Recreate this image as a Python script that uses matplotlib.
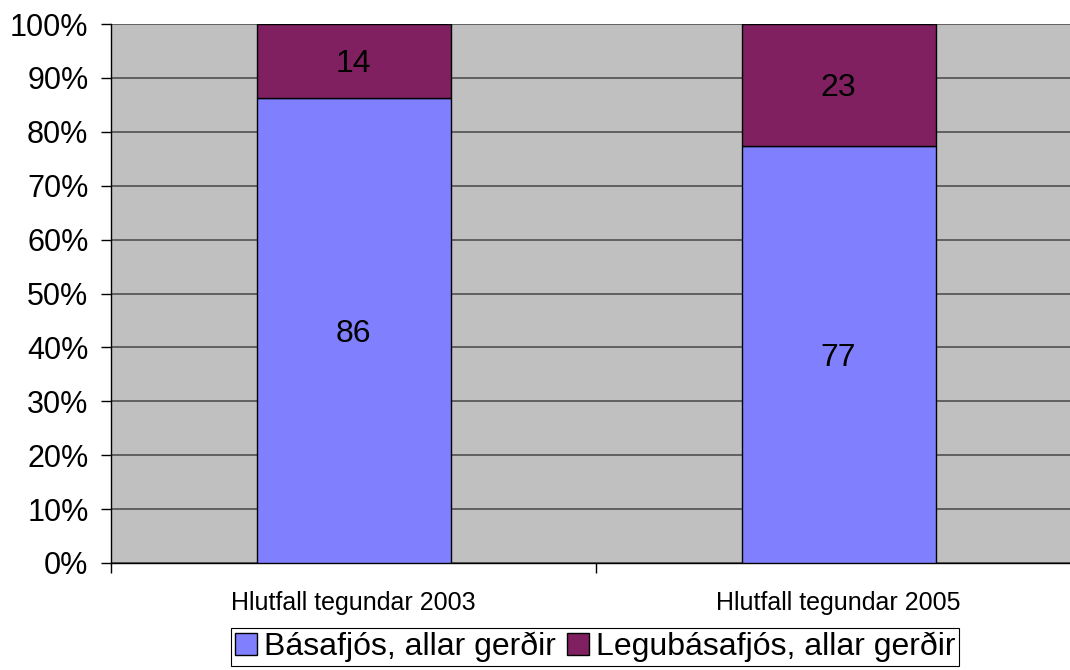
import matplotlib.pyplot as plt
import numpy as np
from matplotlib.ticker import FixedLocator, PercentFormatter

categories = ['Hlutfall tegundar 2003', 'Hlutfall tegundar 2005']
basafjos = [86.3, 77.4]
legubasafjos = [13.7, 22.6]
series_names = ['Básafjós, allar gerðir', 'Legubásafjós, allar gerðir']

plt.rcParams['font.family'] = ['Liberation Sans', 'DejaVu Sans']

fig = plt.figure(figsize=(10.7, 6.7), dpi=100)
ax = fig.add_axes([111 / 1070, 1 - 563 / 670, 970 / 1070, 539 / 670])
ax.set_facecolor('#C0C0C0')

x = np.arange(len(categories)) + 0.5
w = 0.4
b1 = ax.bar(x, basafjos, w, color='#8080FF', edgecolor='black', linewidth=1, label=series_names[0], zorder=3)
b2 = ax.bar(x, legubasafjos, w, bottom=basafjos, color='#802060', edgecolor='black', linewidth=1,
            label=series_names[1], zorder=3)

# value labels, centred in each segment
for bars, vals, bottoms in [(b1, basafjos, [0, 0]), (b2, legubasafjos, basafjos)]:
    for rect, v, b in zip(bars, vals, bottoms):
        ax.text(rect.get_x() + rect.get_width() / 2, b + v / 2, '%.0f' % v,
                ha='center', va='center_baseline', fontsize=23, zorder=4)

ax.set_xlim(0, 2)
ax.set_ylim(0, 100)
ax.set_yticks(np.arange(0, 101, 10))
ax.yaxis.set_major_formatter(PercentFormatter(decimals=0))
ax.grid(axis='y', color='#505050', linewidth=1.2, zorder=1)
ax.tick_params(axis='y', labelsize=22, length=7.2, width=1, direction='out', pad=9)

ax.set_xticks(x)
ax.set_xticklabels(categories, fontsize=18)
ax.xaxis.set_minor_locator(FixedLocator([0, 1, 2]))
ax.tick_params(axis='x', which='major', length=0, pad=20)
ax.tick_params(axis='x', which='minor', length=7, width=1)

for s in ['top', 'right']:
    ax.spines[s].set_visible(False)
ax.spines['left'].set_linewidth(1)
ax.spines['bottom'].set_linewidth(1)

leg = fig.legend(loc='upper center', bbox_to_anchor=(595 / 1070, 1 - 628 / 670), ncol=2,
                 fontsize=23, frameon=True, fancybox=False, framealpha=1, edgecolor='black',
                 handlelength=0.7, handleheight=0.7, handletextpad=0.2, columnspacing=0.35,
                 borderpad=0.12, borderaxespad=0)
leg.get_frame().set_linewidth(0.8)

fig.savefig('out.png', dpi=100)
